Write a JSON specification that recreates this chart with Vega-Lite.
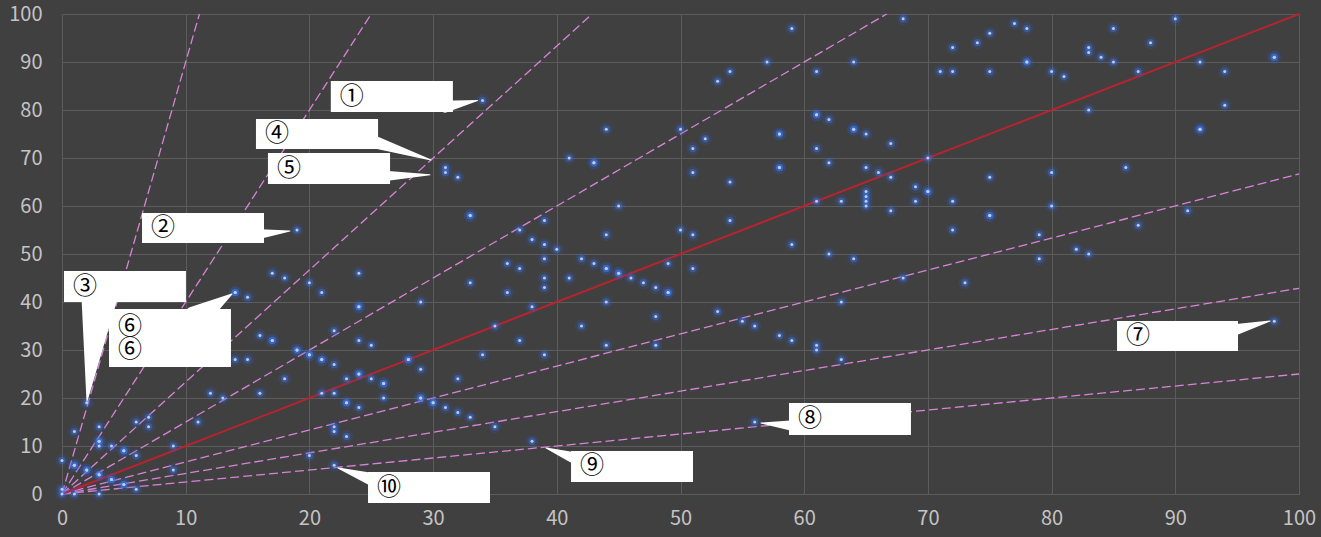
{
  "$schema": "https://vega.github.io/schema/vega-lite/v6.json",
  "width": 1237,
  "height": 480,
  "autosize": {"type": "none"},
  "padding": {"left": 62, "top": 14, "right": 22, "bottom": 43},
  "background": "#404040",
  "config": {"view": {"stroke": null}},
  "datasets": {
    "pts": [
      {"x":59,"y":97},{"x":68,"y":99},{"x":77,"y":98},{"x":78,"y":97},{"x":75,"y":96},{"x":74,"y":94},{"x":72,"y":93},{"x":85,"y":97},{"x":90,"y":99},{"x":88,"y":94},{"x":83,"y":93},{"x":83,"y":92},{"x":84,"y":91},{"x":85,"y":90},{"x":87,"y":88},{"x":92,"y":90},{"x":94,"y":88},{"x":98,"y":91},{"x":98,"y":91},{"x":80,"y":88},{"x":81,"y":87},{"x":78,"y":90},{"x":78,"y":90},{"x":75,"y":88},{"x":72,"y":88},{"x":71,"y":88},{"x":64,"y":90},{"x":61,"y":88},{"x":57,"y":90},{"x":54,"y":88},{"x":53,"y":86},{"x":83,"y":80},{"x":94,"y":81},{"x":92,"y":76},{"x":92,"y":76},{"x":61,"y":79},{"x":61,"y":79},{"x":62,"y":78},{"x":64,"y":76},{"x":64,"y":76},{"x":65,"y":75},{"x":67,"y":73},{"x":58,"y":75},{"x":58,"y":75},{"x":52,"y":74},{"x":61,"y":72},{"x":62,"y":69},{"x":58,"y":68},{"x":58,"y":68},{"x":65,"y":68},{"x":66,"y":67},{"x":67,"y":66},{"x":75,"y":66},{"x":80,"y":67},{"x":86,"y":68},{"x":70,"y":70},
      {"x":54,"y":65},{"x":69,"y":64},{"x":70,"y":63},{"x":70,"y":63},{"x":65,"y":63},{"x":65,"y":62},{"x":65,"y":61},{"x":65,"y":60},{"x":61,"y":61},{"x":63,"y":61},{"x":67,"y":59},{"x":69,"y":61},{"x":72,"y":61},{"x":80,"y":60},{"x":54,"y":57},{"x":75,"y":58},{"x":75,"y":58},{"x":72,"y":55},{"x":91,"y":59},{"x":87,"y":56},{"x":79,"y":54},{"x":59,"y":52},{"x":62,"y":50},{"x":64,"y":49},{"x":79,"y":49},{"x":82,"y":51},{"x":83,"y":50},{"x":68,"y":45},{"x":73,"y":44},{"x":63,"y":40},{"x":53,"y":38},{"x":55,"y":36},{"x":56,"y":35},{"x":58,"y":33},{"x":59,"y":32},{"x":61,"y":31},{"x":61,"y":30},{"x":63,"y":28},{"x":98,"y":36},{"x":56,"y":15},
      {"x":34,"y":82},{"x":31,"y":68},{"x":31,"y":67},{"x":32,"y":66},{"x":44,"y":76},{"x":41,"y":70},{"x":43,"y":69},{"x":43,"y":69},{"x":50,"y":76},{"x":51,"y":72},{"x":51,"y":67},
      {"x":33,"y":58},{"x":33,"y":58},{"x":45,"y":60},{"x":39,"y":57},{"x":37,"y":55},{"x":38,"y":53},{"x":39,"y":52},{"x":40,"y":51},{"x":44,"y":54},{"x":50,"y":55},{"x":51,"y":54},{"x":39,"y":49},{"x":36,"y":48},{"x":37,"y":47},{"x":42,"y":49},{"x":43,"y":48},{"x":44,"y":47},{"x":44,"y":47},{"x":45,"y":46},{"x":45,"y":46},{"x":46,"y":45},{"x":47,"y":44},{"x":48,"y":43},{"x":49,"y":42},{"x":49,"y":42},{"x":49,"y":48},{"x":51,"y":47},{"x":39,"y":45},{"x":39,"y":43},{"x":41,"y":45},{"x":36,"y":42},{"x":33,"y":44},{"x":24,"y":46},{"x":20,"y":44},{"x":21,"y":42},{"x":24,"y":39},{"x":24,"y":39},{"x":29,"y":40},{"x":38,"y":39},{"x":44,"y":40},{"x":48,"y":37},{"x":42,"y":35},{"x":35,"y":35},{"x":22,"y":34},{"x":24,"y":32},{"x":25,"y":31},{"x":37,"y":32},{"x":44,"y":31},{"x":48,"y":31},{"x":20,"y":29},{"x":20,"y":29},{"x":21,"y":28},{"x":21,"y":28},{"x":22,"y":27},{"x":28,"y":28},{"x":28,"y":28},{"x":29,"y":26},{"x":34,"y":29},{"x":39,"y":29},{"x":24,"y":25},{"x":24,"y":25},{"x":23,"y":24},{"x":25,"y":24},{"x":32,"y":24},{"x":19,"y":55},{"x":19,"y":30},{"x":19,"y":30},
      {"x":26,"y":23},{"x":26,"y":23},{"x":22,"y":21},{"x":26,"y":20},{"x":23,"y":19},{"x":23,"y":19},{"x":24,"y":18},{"x":29,"y":20},{"x":29,"y":20},{"x":30,"y":19},{"x":30,"y":19},{"x":31,"y":18},{"x":32,"y":17},{"x":33,"y":16},{"x":35,"y":14},{"x":22,"y":14},{"x":22,"y":13},{"x":23,"y":12},{"x":38,"y":11},{"x":20,"y":8},{"x":22,"y":6},
      {"x":14,"y":42},{"x":14,"y":42},{"x":15,"y":41},{"x":17,"y":46},{"x":18,"y":45},{"x":16,"y":33},{"x":17,"y":32},{"x":17,"y":32},{"x":14,"y":28},{"x":15,"y":28},{"x":18,"y":24},{"x":12,"y":21},{"x":13,"y":20},{"x":16,"y":21},{"x":21,"y":21},{"x":11,"y":15},{"x":9,"y":10},{"x":9,"y":5},{"x":6,"y":15},{"x":7,"y":16},{"x":7,"y":14},{"x":6,"y":8},{"x":5,"y":9},{"x":5,"y":9},{"x":3,"y":14},{"x":3,"y":11},{"x":3,"y":11},{"x":3,"y":10},{"x":4,"y":10},{"x":1,"y":13},{"x":2,"y":19},{"x":0,"y":7},{"x":1,"y":6},{"x":1,"y":6},{"x":2,"y":5},{"x":2,"y":5},{"x":3,"y":4},{"x":3,"y":4},{"x":4,"y":3},{"x":4,"y":3},{"x":5,"y":2},{"x":5,"y":2},{"x":6,"y":1},{"x":3,"y":0},{"x":0,"y":0},{"x":0,"y":1},{"x":1,"y":0}
    ],
    "guides": [
      {"id":"a","x":0,"y":0},{"id":"a","x":11.11,"y":100},
      {"id":"b","x":0,"y":0},{"id":"b","x":25,"y":100},
      {"id":"c","x":0,"y":0},{"id":"c","x":42.86,"y":100},
      {"id":"d","x":0,"y":0},{"id":"d","x":66.67,"y":100},
      {"id":"e","x":0,"y":0},{"id":"e","x":100,"y":66.67},
      {"id":"f","x":0,"y":0},{"id":"f","x":100,"y":42.86},
      {"id":"g","x":0,"y":0},{"id":"g","x":100,"y":25}
    ],
    "diag": [{"x":0,"y":0},{"x":100,"y":100}],
    "wedges": [
      {"id":1,"o":0,"x":30.96,"y":80.7,"w":12},{"id":1,"o":1,"x":33.6,"y":82.0,"w":0},
      {"id":2,"o":0,"x":15.6,"y":54.06,"w":11},{"id":2,"o":1,"x":18.43,"y":54.8,"w":0},
      {"id":3,"o":0,"x":3.07,"y":42.1,"w":38},{"id":3,"o":1,"x":2.02,"y":19.4,"w":0},
      {"id":4,"o":0,"x":25.06,"y":73.5,"w":13},{"id":4,"o":1,"x":29.83,"y":69.6,"w":0},
      {"id":5,"o":0,"x":25.87,"y":66.25,"w":11},{"id":5,"o":1,"x":29.75,"y":66.5,"w":0},
      {"id":6,"o":0,"x":10.83,"y":36.67,"w":25},{"id":6,"o":1,"x":13.74,"y":41.67,"w":0},
      {"id":7,"o":0,"x":94.1,"y":33.75,"w":14},{"id":7,"o":1,"x":97.66,"y":36.04,"w":0},
      {"id":8,"o":0,"x":59.42,"y":14.17,"w":12},{"id":8,"o":1,"x":56.5,"y":14.8,"w":0},
      {"id":9,"o":0,"x":41.88,"y":7.08,"w":14},{"id":9,"o":1,"x":39.13,"y":9.58,"w":0},
      {"id":10,"o":0,"x":25.46,"y":2.71,"w":15},{"id":10,"o":1,"x":22.31,"y":5.42,"w":0}
    ],
    "boxes": [
      {"x":21.73,"x2":31.6,"y":86.04,"y2":79.58},
      {"x":6.47,"x2":16.33,"y":58.54,"y2":52.29},
      {"x":0.16,"x2":10.02,"y":46.46,"y2":40.0},
      {"x":15.68,"x2":25.55,"y":78.13,"y2":71.88},
      {"x":16.65,"x2":26.52,"y":71.04,"y2":64.58},
      {"x":3.8,"x2":13.66,"y":38.54,"y2":26.46},
      {"x":85.29,"x2":95.07,"y":36.04,"y2":29.79},
      {"x":58.77,"x2":68.63,"y":18.96,"y2":12.29},
      {"x":41.15,"x2":51.01,"y":8.96,"y2":2.5},
      {"x":24.74,"x2":34.6,"y":4.58,"y2":-1.88}
    ],
    "labels": [
      {"x":21.73,"y":82.8,"t":"①"},
      {"x":6.47,"y":55.4,"t":"②"},
      {"x":0.16,"y":43.2,"t":"③"},
      {"x":15.68,"y":75.0,"t":"④"},
      {"x":16.65,"y":67.8,"t":"⑤"},
      {"x":3.8,"y":34.8,"t":"⑥"},
      {"x":3.8,"y":30.0,"t":"⑥"},
      {"x":85.29,"y":32.9,"t":"⑦"},
      {"x":58.77,"y":15.6,"t":"⑧"},
      {"x":41.15,"y":5.73,"t":"⑨"},
      {"x":24.74,"y":1.35,"t":"⑩"}
    ]
  },
  "layer": [
    {
      "data": {"name": "guides"},
      "mark": {"type": "line", "color": "#d884d8", "strokeWidth": 1.3, "strokeDash": [9, 4]},
      "encoding": {
        "x": {
          "field": "x", "type": "quantitative",
          "scale": {"domain": [0, 100], "nice": false},
          "axis": {
            "title": null, "values": [0,10,20,30,40,50,60,70,80,90,100],
            "grid": true, "gridColor": "#5c5c5c", "gridWidth": 1,
            "domain": false, "ticks": false, "tickSize": 0,
            "labelFont": "Noto Sans CJK JP", "labelFontSize": 20, "labelColor": "#c4c4c4",
            "labelPadding": 14, "labelFlush": false, "labelOverlap": false
          }
        },
        "y": {
          "field": "y", "type": "quantitative",
          "scale": {"domain": [0, 100], "nice": false},
          "axis": {
            "title": null, "values": [0,10,20,30,40,50,60,70,80,90,100],
            "grid": true, "gridColor": "#5c5c5c", "gridWidth": 1,
            "domain": false, "ticks": false, "tickSize": 0,
            "labelFont": "Noto Sans CJK JP", "labelFontSize": 20, "labelColor": "#c4c4c4",
            "labelPadding": 20, "labelFlush": false, "labelOverlap": false
          }
        },
        "detail": {"field": "id", "type": "nominal"}
      }
    },
    {
      "data": {"name": "diag"},
      "mark": {"type": "line", "color": "#b8232f", "strokeWidth": 2},
      "encoding": {
        "x": {"field": "x", "type": "quantitative"},
        "y": {"field": "y", "type": "quantitative"}
      }
    },
    {
      "data": {"name": "pts"},
      "mark": {"type": "circle", "size": 170, "color": "#2a66e0", "opacity": 0.16},
      "encoding": {
        "x": {"field": "x", "type": "quantitative"},
        "y": {"field": "y", "type": "quantitative"}
      }
    },
    {
      "data": {"name": "pts"},
      "mark": {"type": "circle", "size": 55, "color": "#3f7ef2", "opacity": 0.35},
      "encoding": {
        "x": {"field": "x", "type": "quantitative"},
        "y": {"field": "y", "type": "quantitative"}
      }
    },
    {
      "data": {"name": "pts"},
      "mark": {"type": "circle", "size": 9, "color": "#b8ccff", "opacity": 1},
      "encoding": {
        "x": {"field": "x", "type": "quantitative"},
        "y": {"field": "y", "type": "quantitative"}
      }
    },
    {
      "data": {"name": "wedges"},
      "mark": {"type": "trail", "color": "#ffffff"},
      "encoding": {
        "x": {"field": "x", "type": "quantitative"},
        "y": {"field": "y", "type": "quantitative"},
        "size": {"field": "w", "type": "quantitative", "scale": null, "legend": null},
        "detail": {"field": "id", "type": "nominal"},
        "order": {"field": "o", "type": "quantitative"}
      }
    },
    {
      "data": {"name": "boxes"},
      "mark": {"type": "rect", "color": "#ffffff"},
      "encoding": {
        "x": {"field": "x", "type": "quantitative"},
        "x2": {"field": "x2"},
        "y": {"field": "y", "type": "quantitative"},
        "y2": {"field": "y2"}
      }
    },
    {
      "data": {"name": "labels"},
      "mark": {"type": "text", "align": "left", "baseline": "middle", "dx": 9, "font": "Noto Sans CJK JP", "fontSize": 24, "color": "#000000"},
      "encoding": {
        "x": {"field": "x", "type": "quantitative"},
        "y": {"field": "y", "type": "quantitative"},
        "text": {"field": "t", "type": "nominal"}
      }
    }
  ]
}
